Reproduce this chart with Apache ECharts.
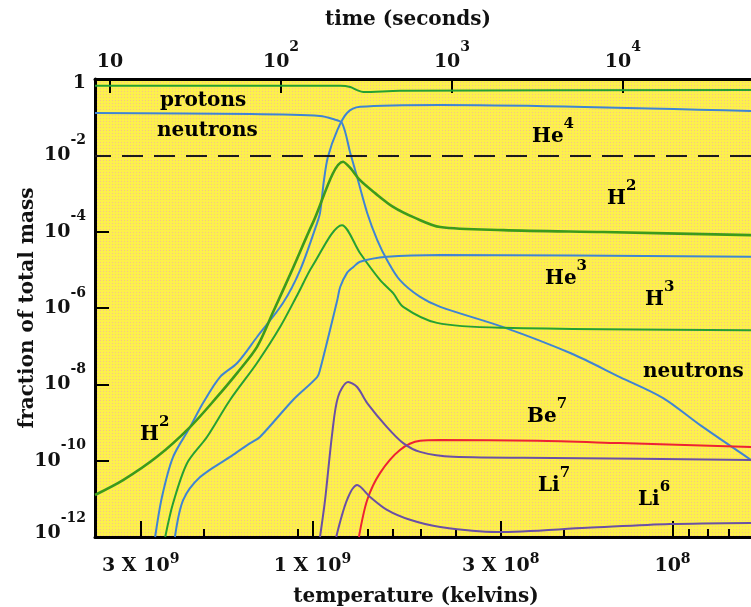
<!DOCTYPE html>
<html>
<head>
<meta charset="utf-8">
<script src="https://cdn.jsdelivr.net/npm/echarts@6/dist/echarts.min.js"></script>
<style>
  html, body { margin: 0; padding: 0; background: #fff; }
  #main { width: 751px; height: 607px; }
</style>
</head>
<body>
<div id="main"></div>
<script>
// every point: [log10 temperature (K), log10 fraction of total mass]
var protons = [[9.604,-0.18],[8.923,-0.18],[8.895,-0.21],[8.876,-0.29],[8.859,-0.34],[8.757,-0.31],[7.782,-0.29]];
var neutrons = [[9.604,-0.89],[9.173,-0.92],[8.979,-0.97],[8.943,-1.05],[8.918,-1.15],[8.895,-1.94],[8.876,-2.57],
    [8.848,-3.51],[8.820,-4.22],[8.793,-4.74],[8.757,-5.27],[8.701,-5.71],[8.645,-5.97],[8.470,-6.50],
    [8.284,-7.18],[8.146,-7.81],[8.026,-8.36],[7.923,-9.07],[7.782,-9.98]];
var he4 = [[9.437,-12],[9.418,-10.95],[9.387,-9.90],[9.340,-9.12],[9.304,-8.49],[9.257,-7.81],[9.209,-7.44],
    [9.154,-6.76],[9.082,-5.87],[9.034,-5.00],[8.987,-3.77],[8.979,-3.51],[8.968,-2.65],[8.957,-2.04],
    [8.931,-1.34],[8.904,-0.89],[8.868,-0.73],[8.645,-0.68],[7.782,-0.84]];
var h2 = [[9.604,-10.90],[9.526,-10.51],[9.432,-9.90],[9.340,-9.12],[9.265,-8.33],[9.209,-7.70],[9.154,-7.02],
    [9.109,-6.10],[9.054,-4.95],[8.998,-3.75],[8.915,-2.17],[8.895,-2.33],[8.868,-2.65],[8.826,-2.99],
    [8.776,-3.35],[8.715,-3.64],[8.645,-3.88],[8.470,-3.96],[8.193,-4.01],[7.782,-4.09]];
var h3 = [[9.409,-12],[9.387,-11.11],[9.348,-10.06],[9.293,-9.38],[9.229,-8.41],[9.154,-7.44],[9.090,-6.50],
    [9.040,-5.62],[9.000,-4.90],[8.918,-3.83],[8.868,-4.56],[8.812,-5.27],[8.776,-5.61],[8.748,-5.97],
    [8.654,-6.39],[8.470,-6.52],[7.782,-6.58]];
var he3 = [[9.382,-12],[9.359,-11.03],[9.312,-10.43],[9.229,-9.90],[9.173,-9.54],[9.146,-9.38],[9.054,-8.41],
    [8.987,-7.81],[8.979,-7.62],[8.931,-5.79],[8.923,-5.45],[8.904,-5.08],[8.887,-4.93],[8.868,-4.79],
    [8.793,-4.66],[8.645,-4.61],[7.782,-4.66]];
var be7 = [[8.871,-12],[8.848,-11.03],[8.812,-10.32],[8.757,-9.72],[8.701,-9.48],[8.645,-9.46],[8.376,-9.48],
    [8.146,-9.54],[7.782,-9.64]];
var li7 = [[8.979,-12],[8.965,-11.03],[8.945,-9.27],[8.929,-8.33],[8.901,-7.94],[8.876,-8.07],[8.848,-8.49],
    [8.793,-9.12],[8.748,-9.54],[8.701,-9.77],[8.609,-9.90],[8.332,-9.93],[7.782,-9.98]];
var li6 = [[8.934,-12],[8.904,-11.03],[8.876,-10.64],[8.840,-10.95],[8.793,-11.29],[8.729,-11.55],[8.645,-11.74],
    [8.487,-11.87],[8.237,-11.76],[8.007,-11.66],[7.782,-11.63]];

var tempTicks = [3e9, 1e9, 3e8, 1e8];
var tempTickLabels = ['3 X 10', '1 X 10', '3 X 10', '10'];
var tempTickExps = ['9', '9', '8', '8'];
var tempMinorTicks = [2e9, 1.1e9, 7e8, 6e8, 5e8, 4e8, 2e8, 9e7, 8e7, 7e7];
var timeTicks = [10, 100, 1000, 10000];
var timeTickExps = ['', '2', '3', '4'];

var FONT = '"DejaVu Serif", serif';
var BLUE = '#3f84d4', GREEN = '#25a033', RED = '#ee2233', PURPLE = '#6a4fa6';

function txt(size, lh, extra) {
    var s = { fontFamily: FONT, fontWeight: 'bold', fontSize: size, lineHeight: lh, color: '#111' };
    for (var k in extra) s[k] = extra[k];
    return s;
}
// superscripts ride on the top of a tall base line
var richHigh = { b: txt(19, 44), s: txt(14, 14, { verticalAlign: 'top' }), g: txt(6, 8) };
var richLow = { b: txt(19, 28), s: txt(14, 14, { verticalAlign: 'top' }) };
var tagRich = { b: txt(20, 40), s: txt(15, 15, { verticalAlign: 'top' }) };

function pick(list, v) {
    for (var i = 0; i < list.length; i++) {
        if (Math.abs(Math.log10(list[i]) - v) < 1e-6) return i;
    }
    return -1;
}

// log-space extents of the plot box
var X_LEFT = 9.604, X_RIGHT = 7.782;
var T_LEFT = 0.912, T_RIGHT = 4.749;

var yard = document.createElement('canvas');
yard.width = 3; yard.height = 3;
var g = yard.getContext('2d');
g.fillStyle = '#fcf04c'; g.fillRect(0, 0, 3, 3);
g.fillStyle = '#f6c489'; g.fillRect(1, 1, 1, 1);

function line(name, data, color, width) {
    return {
        name: name, type: 'line', data: data, xAxisIndex: 0, yAxisIndex: 0,
        showSymbol: false, smooth: 0.3, silent: true,
        lineStyle: { color: color, width: width || 2 }
    };
}

function tag(x, y, base, exp) {
    return {
        type: 'text', x: x, y: y, silent: true,
        style: {
            text: '{b|' + base + '}' + (exp ? '{s|' + exp + '}' : ''),
            rich: tagRich, align: 'left', verticalAlign: 'middle'
        }
    };
}

function title(x, y, text, rot) {
    return {
        type: 'text', x: x, y: y, rotation: rot || 0, silent: true,
        style: { text: text, font: 'bold 20px ' + FONT, fill: '#111', align: 'center', verticalAlign: 'middle' }
    };
}

var myChart = echarts.init(document.getElementById('main'));
var series = [
    line('protons', protons, GREEN),
    line('neutrons', neutrons, BLUE),
    line('He4', he4, BLUE),
    line('H2', h2, '#3c9a1c', 2.6),
    line('H3', h3, GREEN),
    line('He3', he3, BLUE),
    line('Be7', be7, RED),
    line('Li7', li7, PURPLE),
    line('Li6', li6, PURPLE)
];
series[0].markLine = {
    silent: true, symbol: ['none', 'none'], label: { show: false },
    lineStyle: { color: '#1a1a1a', type: [21, 11], width: 2 },
    data: [{ yAxis: -2 }]
};

option = {
    animation: false,
    backgroundColor: '#ffffff',
    grid: [
        { left: 95, right: 0, top: 79, bottom: 70, show: true, borderWidth: 0,
          backgroundColor: { image: yard, repeat: 'repeat' } },
        { left: 95, right: 0, top: 79, bottom: 70, show: false }
    ],
    xAxis: [
        {
            type: 'value', gridIndex: 0, position: 'bottom', inverse: true,
            min: X_RIGHT, max: X_LEFT,
            axisLine: { show: true, onZero: false, lineStyle: { color: '#000', width: 3 } },
            axisTick: { show: true, inside: true, length: 16, customValues: tempTicks.map(Math.log10),
                        lineStyle: { color: '#000', width: 2 } },
            axisLabel: {
                margin: 15, customValues: tempTicks.map(Math.log10), rich: richLow,
                formatter: function (v) {
                    var i = pick(tempTicks, v);
                    return i < 0 ? '' : '{b|' + tempTickLabels[i] + '}{s|' + tempTickExps[i] + '}';
                }
            },
            splitLine: { show: false }
        },
        {
            type: 'value', gridIndex: 0, position: 'top',
            min: T_LEFT, max: T_RIGHT,
            axisLine: { show: true, onZero: false, lineStyle: { color: '#000', width: 3 } },
            axisTick: { show: true, inside: true, length: 14, customValues: timeTicks.map(Math.log10),
                        lineStyle: { color: '#000', width: 2 } },
            axisLabel: {
                margin: -5, customValues: timeTicks.map(Math.log10), rich: richHigh,
                formatter: function (v) {
                    var i = pick(timeTicks, v);
                    if (i < 0) return '';
                    return '{b|10}' + (timeTickExps[i] ? '{s|' + timeTickExps[i] + '}' : '');
                }
            },
            splitLine: { show: false }
        },
        {
            type: 'value', gridIndex: 1, position: 'bottom', inverse: true,
            min: X_RIGHT, max: X_LEFT,
            axisLine: { show: false },
            axisTick: { show: true, inside: true, length: 8, customValues: tempMinorTicks.map(Math.log10),
                        lineStyle: { color: '#000', width: 2 } },
            axisLabel: { show: false },
            splitLine: { show: false }
        }
    ],
    yAxis: [
        {
            type: 'value', gridIndex: 0, min: -12, max: 0, interval: 2,
            axisLine: { show: true, onZero: false, lineStyle: { color: '#000', width: 3 } },
            axisTick: { show: true, inside: true, length: 14, lineStyle: { color: '#000', width: 2 } },
            axisLabel: {
                margin: 9, rich: richHigh,
                formatter: function (v) {
                    if (v === 0) return '{g| }\n{b|1}';
                    if (v === -12) return '{b|10}{s|' + v + '}\n{g| }';
                    return '{b|10}{s|' + v + '}';
                }
            },
            splitLine: { show: false }
        },
        { type: 'value', gridIndex: 1, min: 0, max: 1, show: false }
    ],
    graphic: [
        title(408, 20, 'time (seconds)'),
        title(416, 597, 'temperature (kelvins)'),
        title(28, 308, 'fraction of total mass', Math.PI / 2),
        tag(160, 101, 'protons'),
        tag(157, 131, 'neutrons'),
        tag(532, 137, 'He', '4'),
        tag(607, 199, 'H', '2'),
        tag(545, 279, 'He', '3'),
        tag(645, 300, 'H', '3'),
        tag(643, 372, 'neutrons'),
        tag(527, 417, 'Be', '7'),
        tag(538, 486, 'Li', '7'),
        tag(638, 500, 'Li', '6'),
        tag(140, 435, 'H', '2')
    ],
    series: series
};
myChart.setOption(option);
</script>
</body>
</html>
